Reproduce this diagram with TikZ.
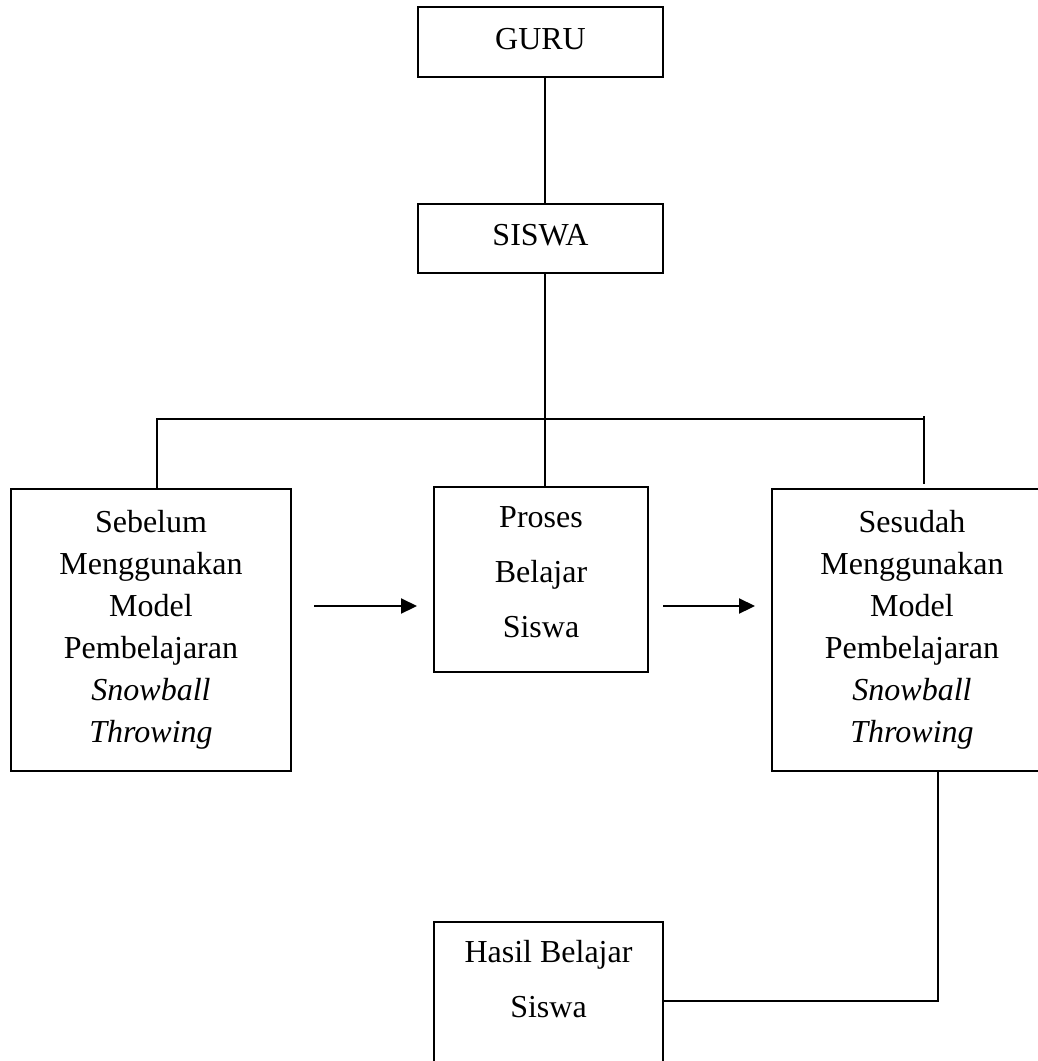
\documentclass[tikz,border=0pt]{standalone}
\usepackage{fontspec}
\setmainfont{Liberation Serif}
\usepackage{tikz}
\usetikzlibrary{calc,arrows.meta}

\begin{document}
\begin{tikzpicture}[x=1pt, y=-1pt, line width=2.2pt,
  box/.style={draw, align=center, inner sep=0pt,
    font=\fontsize{32}{42}\selectfont},
  arr/.style={-{Triangle[length=16pt,width=15pt]}}]

% Page frame: the right box and the bottom box run off the page.
\useasboundingbox (0,0) rectangle (1038,1061);
\clip (0,0) rectangle (1038,1061);

% --- Top boxes ---
\node[box, minimum width=245, minimum height=70, text height=22, text depth=8]
  (guru) at (540.5, 42) {GURU};
\node[box, minimum width=245, minimum height=69, text height=22, text depth=8]
  (siswa) at (540.5, 238.5) {SISWA};

% --- Middle row ---
\node[box, minimum width=280, minimum height=282] (sebelum) at (151, 630)
  {Sebelum\\ Menggunakan\\ Model\\ Pembelajaran\\ \textit{Snowball}\\ \textit{Throwing}};
\node[box, minimum width=214, minimum height=185, text depth=14,
  font=\fontsize{32}{55}\selectfont] (proses) at (541, 579.5)
  {Proses\\ Belajar\\ Siswa};
\node[box, minimum width=280, minimum height=282] (sesudah) at (912, 630)
  {Sesudah\\ Menggunakan\\ Model\\ Pembelajaran\\ \textit{Snowball}\\ \textit{Throwing}};

% --- Bottom box (text sits at its top) ---
\node[box, minimum width=229, minimum height=180] (hasil) at (548.5, 1012) {};
\node[font=\fontsize{32}{55}\selectfont, align=center, anchor=base]
  (hasiltxt) at (548.5, 1017) {Hasil Belajar\\ Siswa};

% --- Bus and turning points ---
\coordinate (busL) at (157, 419);
\coordinate (busR) at (924, 419);
\coordinate (turn) at (938, 1001);

% --- Arrow ends ---
\coordinate (a1) at (314, 606);
\coordinate (a2) at (417, 606);
\coordinate (a3) at (663, 606);
\coordinate (a4) at (755, 606);

% --- Connectors ---
\draw ([xshift=4.5]guru.south) -- ([xshift=4.5]siswa.north);
\draw ([xshift=4.5]siswa.south) -- ([xshift=4.5]siswa.south |- proses.north);
\draw (busL |- sebelum.north) -- (busL) -- (busR);
\draw ($(busR)+(0,-3)$) -- ($(busR |- sesudah.north)+(0,-4)$);
\draw (sesudah.south -| turn) -- (turn) -- (turn -| hasil.east);

\draw[arr] (a1) -- (a2);
\draw[arr] (a3) -- (a4);

\end{tikzpicture}
\end{document}
